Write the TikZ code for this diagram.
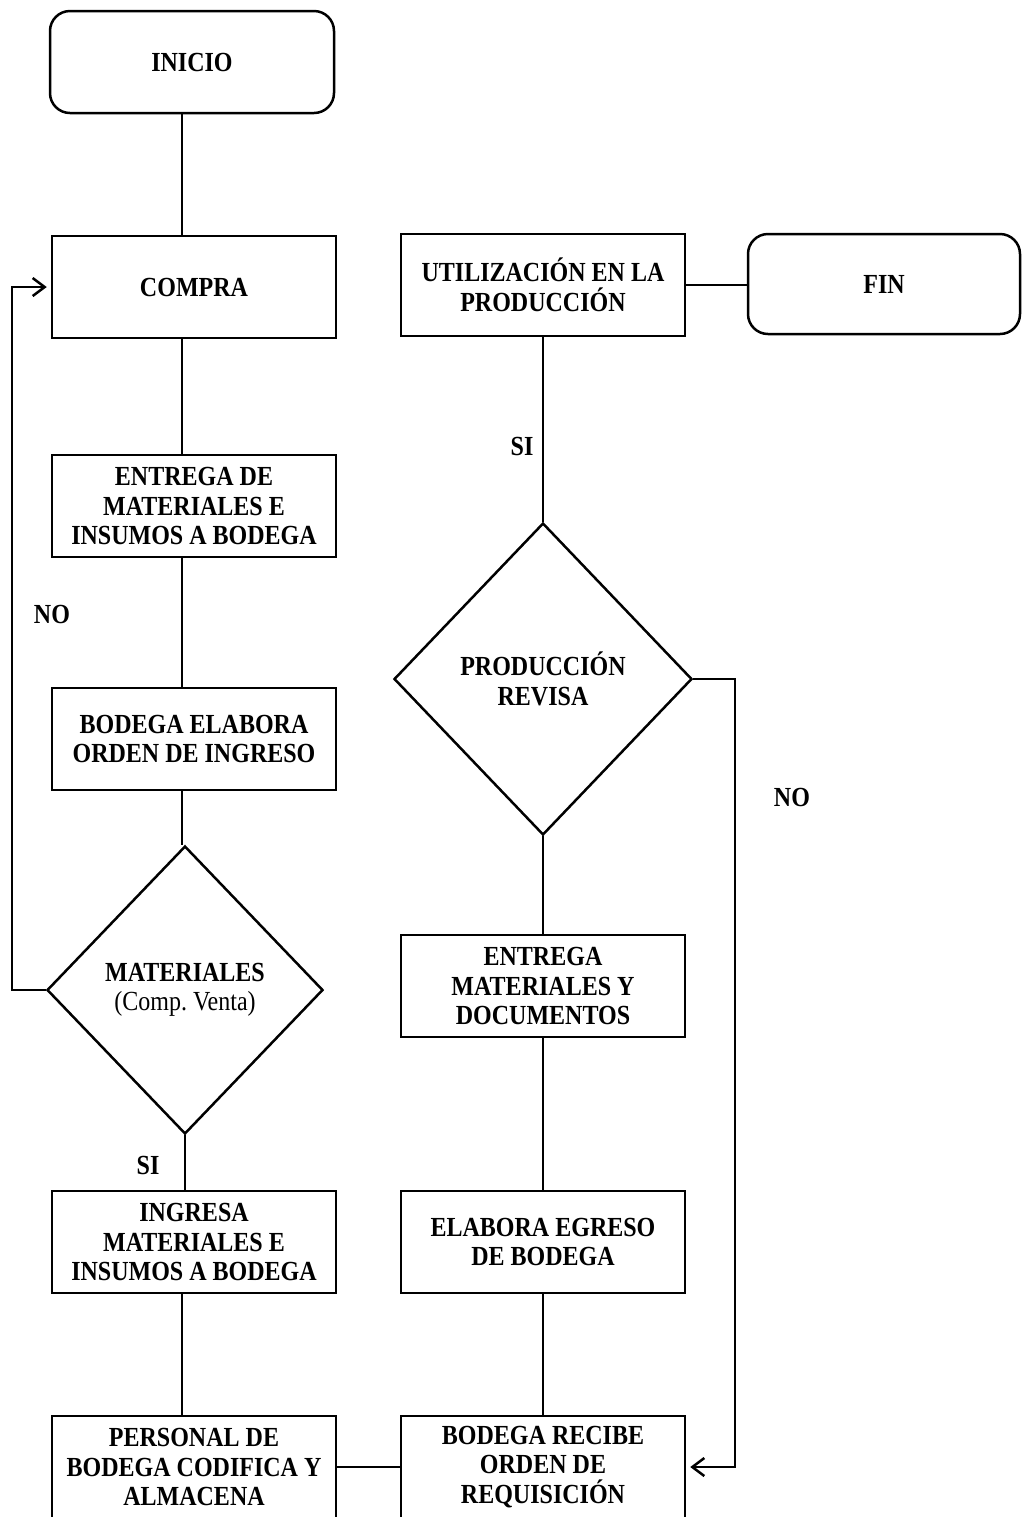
\documentclass[tikz,border=0pt]{standalone}
\usepackage{fontspec}
\setmainfont{Liberation Serif}[FakeStretch=0.87]
\usetikzlibrary{shapes.geometric,arrows.meta}
\tikzset{
  base/.style={draw, line width=1.25pt, align=center, inner sep=0pt,
    font=\fontsize{13.8pt}{14.75pt}\selectfont\bfseries},
  pbox/.style={base, rectangle, minimum width=142pt, minimum height=51pt},
  term/.style={base, rectangle, rounded corners=10pt, minimum width=142pt, minimum height=51pt},
  dec/.style={base, diamond},
  conn/.style={line width=1.25pt},
  arr/.style={line width=1.25pt, -{Straight Barb[length=6pt,width=9pt,line width=1.25pt]}, shorten >=2pt},
  lbl/.style={font=\fontsize{13.8pt}{14.75pt}\selectfont\bfseries, inner sep=0pt}
}
\begin{document}
\begin{tikzpicture}[x=0.5pt,y=-0.5pt]
\useasboundingbox (0,0) rectangle (1022,1517);
\clip (0,0) rectangle (1022,1517);
% left column
\node[term] (inicio) at (192,62) {INICIO};
\node[pbox] (compra) at (194,287) {COMPRA};
\node[pbox] (entrega) at (194,506) {ENTREGA DE\\MATERIALES E\\INSUMOS A BODEGA};
\node[pbox] (elabora) at (194,739) {BODEGA ELABORA\\ORDEN DE INGRESO};
\node[dec, minimum width=138pt, minimum height=144pt] (materiales) at (185,990) {MATERIALES\\{\mdseries (Comp.\ Venta)}};
\node[pbox] (ingresa) at (194,1242) {INGRESA\\MATERIALES E\\INSUMOS A BODEGA};
\node[pbox] (personal) at (194,1467) {PERSONAL DE\\BODEGA CODIFICA Y\\ALMACENA};
% right column
\node[pbox] (utiliz) at (543,285) {UTILIZACIÓN EN LA\\PRODUCCIÓN};
\node[term, minimum width=136pt, minimum height=50pt] (fin) at (884,284) {FIN};
\node[dec, minimum width=149pt, minimum height=156pt] (revisa) at (543,679) {PRODUCCIÓN\\REVISA};
\node[pbox] (entrega2) at (543,986) {ENTREGA\\MATERIALES Y\\DOCUMENTOS};
\node[pbox] (egreso) at (543,1242) {ELABORA EGRESO\\DE BODEGA};
\node[pbox] (recibe) at (543,1467) {BODEGA RECIBE\\ORDEN DE\\REQUISICIÓN};
% labels
\node[lbl] (no1) at (52,614) {NO};
\node[lbl] (si1) at (148,1165) {SI};
\node[lbl] (si2) at (522,446) {SI};
\node[lbl] (no2) at (792,797) {NO};
% helper coordinates
\coordinate (lx) at (182,0);
\coordinate (loopx) at (12,0);
\coordinate (rx) at (735,0);
% connectors left
\draw[conn] (inicio.south -| lx) -- (compra.north -| lx);
\draw[conn] (compra.south -| lx) -- (entrega.north -| lx);
\draw[conn] (entrega.south -| lx) -- (elabora.north -| lx);
\draw[conn] (elabora.south -| lx) -- (materiales.north -| lx);
\draw[conn] (materiales.south) -- (ingresa.north -| materiales.south);
\draw[conn] (ingresa.south -| lx) -- (personal.north -| lx);
\draw[arr] (materiales.west) -- (materiales.west -| loopx) |- (compra.west);
% bottom link
\draw[conn] (personal.east) -- (recibe.west);
% connectors right
\draw[conn] (recibe.north) -- (egreso.south);
\draw[conn] (egreso.north) -- (entrega2.south);
\draw[conn] (entrega2.north) -- (revisa.south);
\draw[conn] (revisa.north) -- (utiliz.south);
\draw[conn] (utiliz.east) -- (utiliz.east -| fin.west);
\draw[arr] (revisa.east) -- (revisa.east -| rx) |- (recibe.east);
\end{tikzpicture}
\end{document}
